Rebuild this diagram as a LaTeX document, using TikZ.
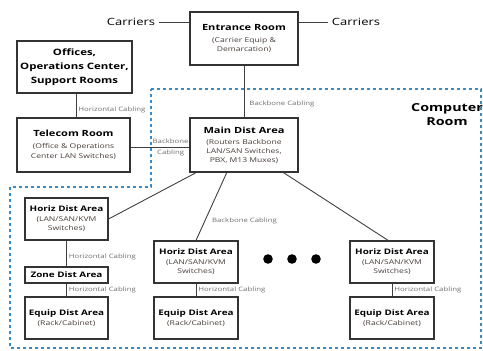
\documentclass[tikz,border=0pt]{standalone}
\usepackage{fontspec}
\setmainfont[FakeStretch=1.3]{Open Sans}
\usetikzlibrary{positioning,calc}
\definecolor{roomblue}{RGB}{55,140,200}
\definecolor{lblgrey}{RGB}{110,110,110}
\definecolor{subgrey}{RGB}{70,60,55}
\newcommand{\ttl}[1]{{\fontsize{8.5}{10}\selectfont\bfseries #1}}
\newcommand{\smallttl}[1]{{\fontsize{7.6}{9}\selectfont\bfseries #1}}
\newcommand{\sub}[1]{{\fontsize{6.6}{8}\selectfont\color{subgrey}#1}}

\begin{document}
\begin{tikzpicture}[x=1pt,y=-1pt,
    box/.style={draw=black!80,line width=1.1pt,align=center,inner sep=1pt,font=\fontsize{6}{9}\selectfont},
    bigbox/.style={box,minimum width=108pt,minimum height=53pt},
    smallbox/.style={box,minimum width=84pt,minimum height=42pt},
    cable/.style={draw=black!75,line width=0.9pt},
    lbl/.style={font=\fontsize{6}{7}\selectfont,text=lblgrey,inner sep=2pt}]
    \useasboundingbox (0,0) rectangle (483,351);
    % computer room boundary
    \draw[roomblue,line width=1.4pt,dash pattern=on 3pt off 3pt] (151,89) -- (481,89) -- (481,348) -- (10,348) -- (10,187) -- (151,187) -- cycle;
    \node[anchor=north,align=center,inner sep=0pt,font=\fontsize{11}{14}\selectfont\bfseries] (croom) at (447,103) {Computer\\Room};

    % rooms
    \node[bigbox] (entrance) at (244,38.5) {\ttl{Entrance Room}\\[3pt]\sub{(Carrier Equip \&}\\\sub{Demarcation)}};
    \node[box,minimum width=115pt,minimum height=52pt,font=\fontsize{8.8}{14}\selectfont\bfseries] (offices) at (74.5,67) {Offices,\\Operations Center,\\Support Rooms};
    \node[box,minimum width=113pt,minimum height=54pt] (telecom) at (73.5,145) {\ttl{Telecom Room}\\[3pt]\sub{(Office \& Operations}\\[1pt]\sub{Center LAN Switches)}};
    \node[bigbox,minimum height=54pt] (main) at (244,145) {\ttl{Main Dist Area}\\[2pt]\sub{(Routers Backbone}\\\sub{LAN/SAN Switches,}\\\sub{PBX, M13 Muxes)}};

    % carriers
    \node[font=\fontsize{10}{12}\selectfont] (carl) at (131,22) {Carriers};
    \node[font=\fontsize{10}{12}\selectfont] (carr) at (356,22) {Carriers};
    \draw[cable] (carl) -- (carl -| entrance.west);
    \draw[cable] (carr) -- (carr -| entrance.east);

    % distribution areas
    \node[smallbox,minimum width=83pt] (hda1) at (66.5,219) {\smallttl{Horiz Dist Area}\\[1pt]\sub{(LAN/SAN/KVM}\\\sub{Switches)}};
    \node[box,minimum width=83pt,minimum height=16pt] (zda) at (66.5,275) {\smallttl{Zone Dist Area}};
    \node[smallbox,minimum width=83pt] (eda1) at (66.5,318) {\smallttl{Equip Dist Area}\\[1pt]\sub{(Rack/Cabinet)}};
    \node[smallbox] (hda2) at (196,262) {\smallttl{Horiz Dist Area}\\[1pt]\sub{(LAN/SAN/KVM}\\\sub{Switches)}};
    \node[smallbox] (eda2) at (196,318) {\smallttl{Equip Dist Area}\\[1pt]\sub{(Rack/Cabinet)}};
    \node[smallbox] (hda3) at (392,262) {\smallttl{Horiz Dist Area}\\[1pt]\sub{(LAN/SAN/KVM}\\\sub{Switches)}};
    \node[smallbox] (eda3) at (392,318) {\smallttl{Equip Dist Area}\\[1pt]\sub{(Rack/Cabinet)}};

    % cabling
    \draw[cable] (entrance) -- (main) node[lbl,pos=0.74,right=3pt] {Backbone Cabling};
    \draw[cable] (offices.south -| 76,0) -- (telecom.north -| 76,0) node[lbl,pos=0.68,right] {Horizontal Cabling};
    \draw[cable] (telecom.east |- 0,147) -- (main.west |- 0,147) node[lbl,pos=0.68,align=center,font=\fontsize{6}{11}\selectfont] {Backbone\\Cabling};
    \draw[cable] (main.-150) -- (hda1.east);
    \draw[cable] (main.-122) -- (hda2.north) node[lbl,pos=0.72,right=5pt] {Backbone Cabling};
    \draw[cable] (main.-35) -- (hda3.100);
    \draw[cable] (hda1) -- (zda) node[lbl,pos=0.65,right] {Horizontal Cabling};
    \draw[cable] (zda) -- (eda1) node[lbl,midway,right] {Horizontal Cabling};
    \draw[cable] (hda2) -- (eda2) node[lbl,midway,right] {Horizontal Cabling};
    \draw[cable] (hda3) -- (eda3) node[lbl,midway,right] {Horizontal Cabling};

    % more areas
    \foreach \x in {268,292,316} \fill (\x,259) circle (4.8pt);
\end{tikzpicture}
\end{document}
